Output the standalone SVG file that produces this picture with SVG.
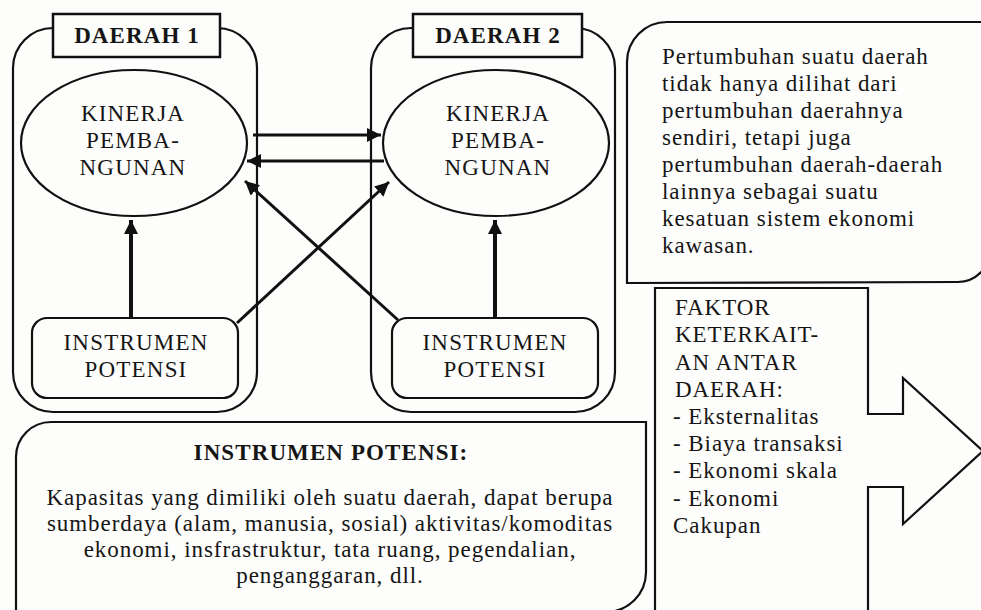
<svg xmlns="http://www.w3.org/2000/svg" width="981" height="610" viewBox="0 0 981 610">
<style>
.box{fill:#fdfdfb;stroke:#111;stroke-width:2.2}
.lbl{fill:#fdfdfb;stroke:#111;stroke-width:2.5}
.t{font-family:"Liberation Serif","Times New Roman",serif;font-size:23px;letter-spacing:0.95px;fill:#151515}
.c{text-anchor:middle}
.cap{letter-spacing:1.2px}
.b{font-weight:bold;letter-spacing:1.1px}
.arr{fill:none;stroke:#111;stroke-width:3}
</style>
<defs>
<marker id="ah" markerUnits="userSpaceOnUse" markerWidth="16" markerHeight="14" refX="14" refY="7" orient="auto">
<path d="M0,0 L14,7 L0,14 Z" fill="#111"/>
</marker>
</defs>
<rect x="0" y="0" width="981" height="610" fill="#fdfdfb"/>

<g id="daerah1">
<rect class="box" x="13" y="28" width="244" height="384" rx="40"/>
<rect class="lbl" x="53" y="14" width="167" height="43"/>
<text class="t b c" x="137" y="43">DAERAH 1</text>
</g>
<g id="daerah2">
<rect class="box" x="371" y="28" width="244" height="384" rx="40"/>
<rect class="lbl" x="413" y="14" width="169" height="43"/>
<text class="t b c" x="498" y="43">DAERAH 2</text>
</g>

<g id="kinerja1">
<ellipse class="box" cx="134" cy="143" rx="113" ry="73"/>
<text class="t cap c" x="133" y="121">KINERJA</text>
<text class="t cap c" x="133" y="148">PEMBA-</text>
<text class="t cap c" x="133" y="175">NGUNAN</text>
</g>
<g id="kinerja2">
<ellipse class="box" cx="496" cy="143" rx="113" ry="73"/>
<text class="t cap c" x="498" y="121">KINERJA</text>
<text class="t cap c" x="498" y="148">PEMBA-</text>
<text class="t cap c" x="498" y="175">NGUNAN</text>
</g>

<g id="instrumen1">
<rect class="box" x="32" y="318" width="206" height="80" rx="15"/>
<text class="t cap c" x="136" y="350">INSTRUMEN</text>
<text class="t cap c" x="136" y="377">POTENSI</text>
</g>
<g id="instrumen2">
<rect class="box" x="392" y="318" width="206" height="80" rx="15"/>
<text class="t cap c" x="495" y="350">INSTRUMEN</text>
<text class="t cap c" x="495" y="377">POTENSI</text>
</g>

<g id="connectors">
<line class="arr" x1="253" y1="135" x2="381" y2="135" marker-end="url(#ah)"/>
<line class="arr" x1="384" y1="161" x2="247" y2="161" marker-end="url(#ah)"/>
<line class="arr" style="stroke-width:4" x1="131" y1="318" x2="131" y2="220" marker-end="url(#ah)"/>
<line class="arr" style="stroke-width:4" x1="495" y1="318" x2="495" y2="220" marker-end="url(#ah)"/>
<line class="arr" x1="237" y1="323" x2="389" y2="182" marker-end="url(#ah)"/>
<line class="arr" x1="398" y1="320" x2="245" y2="181" marker-end="url(#ah)"/>
</g>

<g id="keterangan">
<path class="box" d="M627,283 V62 A40,40 0 0 1 667,22 H990 V250 A32,32 0 0 1 958,282 Z"/>
<text class="t" x="662" y="64">Pertumbuhan suatu daerah</text>
<text class="t" x="662" y="91">tidak hanya dilihat dari</text>
<text class="t" x="662" y="118">pertumbuhan daerahnya</text>
<text class="t" x="662" y="145">sendiri, tetapi juga</text>
<text class="t" x="662" y="172">pertumbuhan daerah-daerah</text>
<text class="t" x="662" y="199">lainnya sebagai suatu</text>
<text class="t" x="662" y="226">kesatuan sistem ekonomi</text>
<text class="t" x="662" y="253">kawasan.</text>
</g>

<g id="faktor">
<path class="box" d="M655,615 V288 H868 V414 H903 V378 L983,451 L903,524 V487 H868 V615"/>
<text class="t" x="675" y="315">FAKTOR</text>
<text class="t" x="675" y="342">KETERKAIT-</text>
<text class="t" x="675" y="370">AN ANTAR</text>
<text class="t" x="675" y="397">DAERAH:</text>
<text class="t" x="673" y="424">- Eksternalitas</text>
<text class="t" x="673" y="451">- Biaya transaksi</text>
<text class="t" x="673" y="478">- Ekonomi skala</text>
<text class="t" x="673" y="506">- Ekonomi</text>
<text class="t" x="673" y="533">Cakupan</text>
</g>

<g id="definisi">
<path class="box" d="M16,620 V457 A35,35 0 0 1 51,422 H646 V572 A40,40 0 0 1 606,612 V620 Z"/>
<text class="t b c" x="331" y="460">INSTRUMEN POTENSI:</text>
<text class="t c" x="330" y="505">Kapasitas yang dimiliki oleh suatu daerah, dapat berupa</text>
<text class="t c" x="330" y="531">sumberdaya (alam, manusia, sosial) aktivitas/komoditas</text>
<text class="t c" x="330" y="557">ekonomi, insfrastruktur, tata ruang, pegendalian,</text>
<text class="t c" x="330" y="583">penganggaran, dll.</text>
</g>
</svg>
